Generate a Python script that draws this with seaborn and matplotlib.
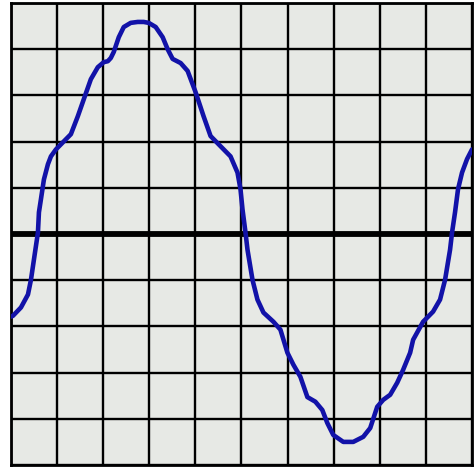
import matplotlib
matplotlib.use("Agg")
import matplotlib.pyplot as plt
import seaborn as sns
import numpy as np
import pandas as pd

# Waveform samples (grid units: 10 divisions wide, ±5 tall)
time_div = [0.000, 0.043, 0.216, 0.368, 0.433, 0.498, 0.584, 0.606, 0.649, 0.714,
            0.801, 0.866, 0.974, 1.082, 1.299, 1.450, 1.580, 1.732, 1.883, 2.013,
            2.100, 2.165, 2.229, 2.338, 2.446, 2.597, 2.749, 2.879, 2.987, 3.139,
            3.290, 3.398, 3.506, 3.680, 3.831, 4.004, 4.177, 4.329, 4.545, 4.762,
            4.913, 4.978, 5.022, 5.087, 5.130, 5.238, 5.346, 5.476, 5.693, 5.844,
            5.996, 6.126, 6.277, 6.429, 6.602, 6.753, 6.861, 6.991, 7.208, 7.424,
            7.641, 7.792, 7.944, 8.074, 8.225, 8.377, 8.506, 8.658, 8.723, 8.939,
            9.156, 9.307, 9.416, 9.524, 9.567, 9.632, 9.697, 9.784, 9.892, 10.000]
volts_div = [-1.79, -1.77, -1.59, -1.31, -0.99, -0.55, 0.03, 0.47, 0.75, 1.18,
             1.51, 1.68, 1.83, 1.94, 2.16, 2.55, 2.92, 3.35, 3.61, 3.72,
             3.74, 3.81, 3.94, 4.26, 4.48, 4.57, 4.59, 4.59, 4.57, 4.48,
             4.26, 4.00, 3.79, 3.70, 3.53, 3.07, 2.55, 2.12, 1.90, 1.68,
             1.33, 0.97, 0.53, 0.03, -0.34, -0.99, -1.42, -1.70, -1.90, -2.07,
             -2.57, -2.83, -3.09, -3.53, -3.63, -3.81, -4.09, -4.35, -4.50, -4.50,
             -4.39, -4.20, -3.74, -3.59, -3.48, -3.22, -2.94, -2.57, -2.29, -1.90,
             -1.68, -1.42, -0.99, -0.34, 0.03, 0.47, 0.97, 1.33, 1.62, 1.83]

df = pd.DataFrame({"t": time_div, "v": volts_div})

fig = plt.figure(figsize=(4.77, 4.69), dpi=100)
fig.patch.set_facecolor("white")
W, H = 477, 469
left, right, top, bottom = 11, 472, 3, 465
ax = fig.add_axes([left / W, (H - bottom) / H, (right - left) / W, (bottom - top) / H])
ax.set_facecolor("#e7e9e5")

ax.set_xlim(0, 10)
ax.set_ylim(-5, 5)
ax.set_xticks(np.arange(0, 11, 1))
ax.set_yticks(np.arange(-5, 6, 1))
ax.tick_params(length=0, labelbottom=False, labelleft=False)
ax.grid(True, color="black", linewidth=1.7)
ax.set_axisbelow(True)
for s in ax.spines.values():
    s.set_color("black")
    s.set_linewidth(2.0)

ax.axhline(0, color="black", linewidth=4.2, zorder=1.5)

sns.lineplot(data=df, x="t", y="v", ax=ax, color="#1212a8", linewidth=3.3,
             estimator=None, sort=False, zorder=3,
             solid_joinstyle="round", solid_capstyle="round")
ax.set_xlabel("")
ax.set_ylabel("")

fig.savefig("out.png", dpi=100)
